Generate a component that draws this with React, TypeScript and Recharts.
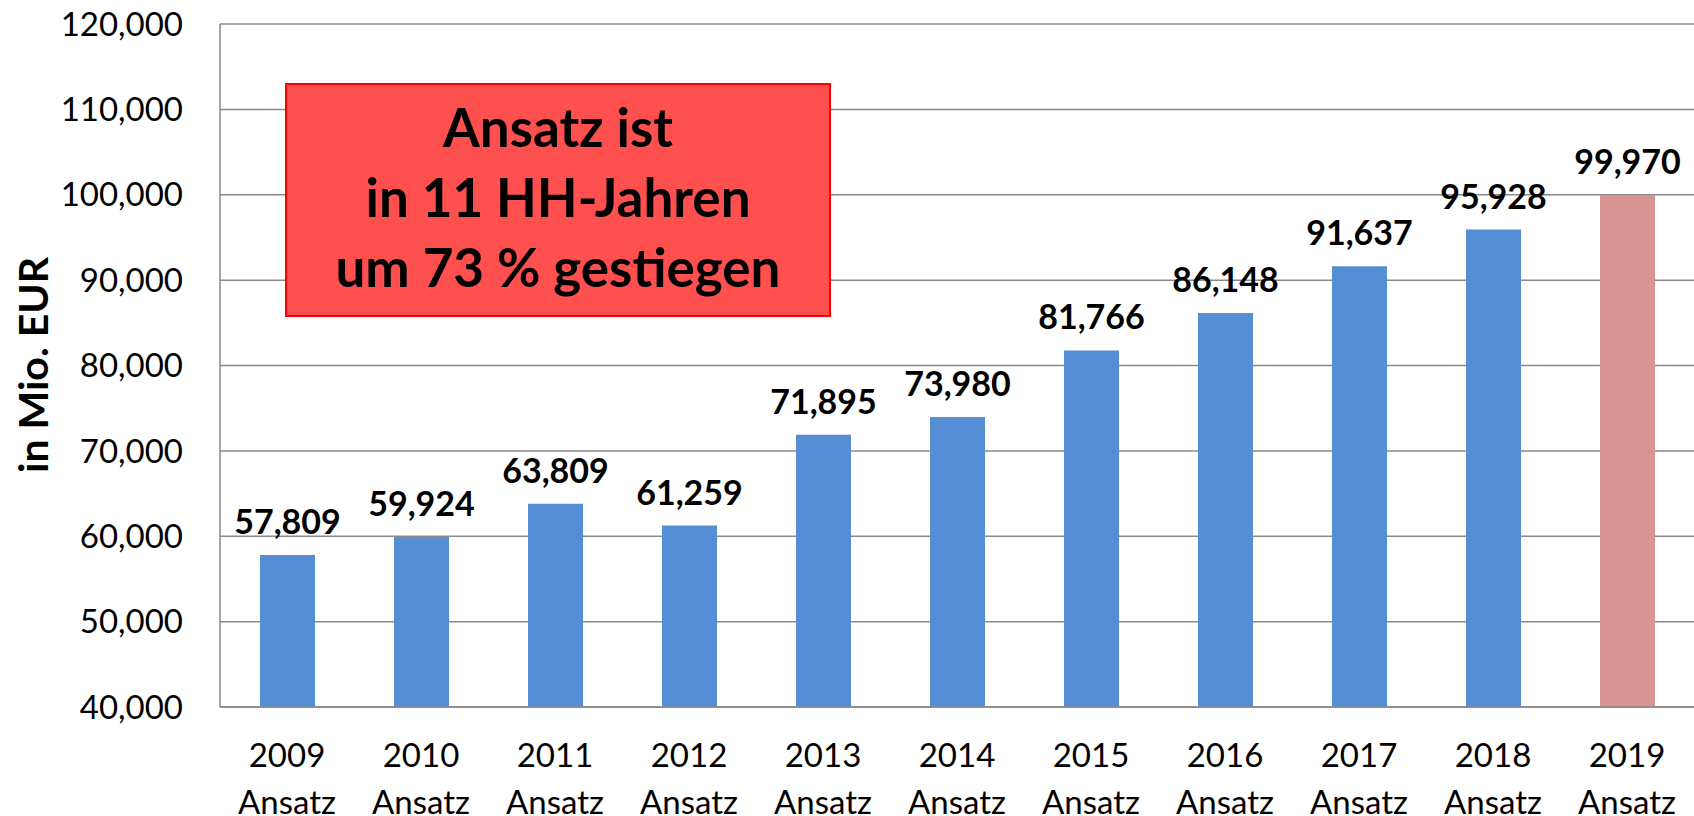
import { BarChart, Bar, XAxis, YAxis, CartesianGrid, LabelList, Cell } from "recharts";

const years = ["2009", "2010", "2011", "2012", "2013", "2014", "2015", "2016", "2017", "2018", "2019"];
const ansatz = [57809, 59924, 63809, 61259, 71895, 73980, 81766, 86148, 91637, 95928, 99970];
const yTicks = [40000, 50000, 60000, 70000, 80000, 90000, 100000, 110000, 120000];
const subLabel = "Ansatz";
const calloutLines = ["Ansatz ist", "in 11 HH-Jahren", "um 73 % gestiegen"];

const data = years.map((year, i) => ({ year, value: ansatz[i] }));

const FONT = "Lato, 'Open Sans', sans-serif";
const BLUE = "#558ED5";
const PINK = "#D99594";
const GRID = "#898989";

const fmt = (v: number) => v.toLocaleString("en-US");

function YearTick({ x, y, payload }: any) {
  return (
    <text x={x} y={y} textAnchor="middle" fontFamily={FONT} fontSize={33} fill="#000">
      <tspan x={x} dy={60}>{payload.value}</tspan>
      <tspan x={x} dy={47}>{subLabel}</tspan>
    </text>
  );
}

function AxisTitle() {
  return (
    <text
      x={32}
      y={365}
      transform="rotate(-90 32 365)"
      textAnchor="middle"
      dominantBaseline="central"
      fontFamily={FONT}
      fontWeight={700}
      fontSize={41}
      fill="#000"
    >
      in Mio. EUR
    </text>
  );
}

export default function App() {
  return (
    <div style={{ position: "relative", width: 1694, height: 816, background: "#fff" }}>
      <style>{"body{margin:0}"}</style>
      <BarChart width={1694} height={816} data={data} margin={{ top: 24, right: 0, bottom: 0, left: 0 }}>
        <CartesianGrid vertical={false} stroke={GRID} strokeWidth={1.5} />
        <XAxis
          dataKey="year"
          height={109}
          interval={0}
          tickLine={false}
          tickSize={0}
          tickMargin={0}
          axisLine={{ stroke: GRID, strokeWidth: 1.5 }}
          tick={<YearTick />}
        />
        <YAxis
          width={220}
          domain={[40000, 120000]}
          ticks={yTicks}
          tickFormatter={fmt}
          tickLine={false}
          tickSize={0}
          tickMargin={37}
          axisLine={{ stroke: GRID, strokeWidth: 1.5 }}
          tick={{ fontFamily: FONT, fontSize: 33, fill: "#000" }}
          label={{ content: () => <AxisTitle /> }}
        />
        <Bar dataKey="value" barSize={55} isAnimationActive={false}>
          {data.map((d, i) => (
            <Cell key={d.year} fill={i === data.length - 1 ? PINK : BLUE} />
          ))}
          <LabelList
            dataKey="value"
            position="top"
            offset={21}
            formatter={(v: any) => fmt(Number(v))}
            style={{ fontFamily: FONT, fontWeight: 700, fontSize: 34, fill: "#000" }}
          />
        </Bar>
      </BarChart>
      <div
        style={{
          position: "absolute",
          left: 285,
          top: 83,
          width: 546,
          height: 234,
          boxSizing: "border-box",
          background: "#FF5050",
          border: "2px solid #FF0000",
          display: "flex",
          flexDirection: "column",
          justifyContent: "center",
          alignItems: "center",
          fontFamily: FONT,
          fontWeight: 700,
          fontSize: 53,
          lineHeight: "70px",
          color: "#000",
          paddingBottom: 6,
        }}
      >
        {calloutLines.map((l) => (
          <div key={l}>{l}</div>
        ))}
      </div>
    </div>
  );
}
